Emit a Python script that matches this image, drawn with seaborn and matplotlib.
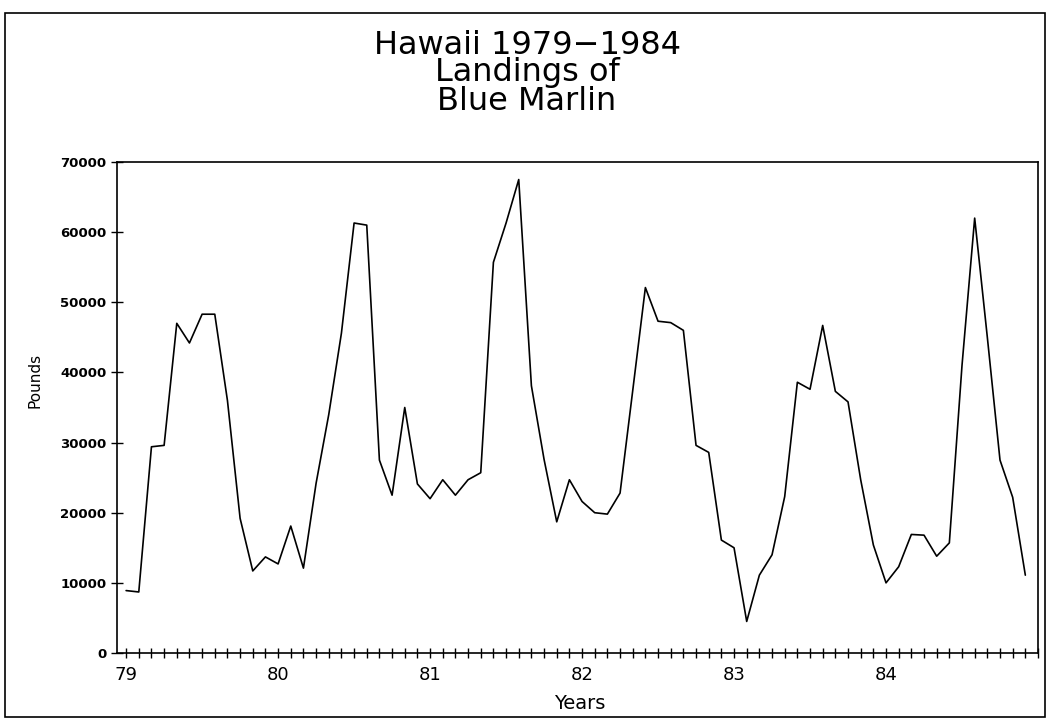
import numpy as np
import pandas as pd
import matplotlib
matplotlib.use("Agg")
import matplotlib.pyplot as plt
from matplotlib.patches import Rectangle
from matplotlib.ticker import FixedLocator
import seaborn as sns

# ---- data (monthly landings, Jan 1979 .. Dec 1984) ----
title_lines = ["Hawaii 1979\u22121984", "Landings of", "Blue Marlin"]
year_labels = ["79", "80", "81", "82", "83", "84"]
pounds_1979 = [8900, 8700, 29400, 29600, 47000, 44200, 48300, 48300, 36000, 19200, 11700, 13700]
pounds_1980 = [12700, 18100, 12100, 24200, 34000, 45600, 61300, 61000, 27500, 22500, 35000, 24100]
pounds_1981 = [22000, 24700, 22500, 24700, 25700, 55700, 61300, 67500, 38100, 27600, 18700, 24700]
pounds_1982 = [21600, 20000, 19800, 22800, 37400, 52100, 47300, 47100, 46000, 29600, 28600, 16100]
pounds_1983 = [15000, 4500, 11100, 14000, 22300, 38600, 37600, 46700, 37300, 35800, 24700, 15400]
pounds_1984 = [10000, 12300, 16900, 16800, 13800, 15700, 41000, 62000, 45000, 27500, 22200, 11100]
y_ticks = [0, 10000, 20000, 30000, 40000, 50000, 60000, 70000]

pounds = pounds_1979 + pounds_1980 + pounds_1981 + pounds_1982 + pounds_1983 + pounds_1984
first_year = int(year_labels[0])
t = first_year + np.arange(len(pounds)) / 12.0
df = pd.DataFrame({"Years": t, "Pounds": pounds})

sns.set_theme(style="white")
plt.rcParams["font.family"] = ["DejaVu Sans"]
plt.rcParams["text.color"] = "black"
plt.rcParams["axes.labelcolor"] = "black"
plt.rcParams["xtick.color"] = "black"
plt.rcParams["ytick.color"] = "black"

fig = plt.figure(figsize=(10.51, 7.24), dpi=100)
ax = fig.add_axes([117 / 1051, 1 - 653 / 724, (1038 - 117) / 1051, (653 - 162) / 724])

sns.lineplot(data=df, x="Years", y="Pounds", ax=ax, color="black", linewidth=1.2)

ax.set_xlim(first_year - 0.06, first_year + len(year_labels))
ax.set_ylim(y_ticks[0], y_ticks[-1])

# x ticks: labelled years plus monthly "+" ticks
ax.xaxis.set_major_locator(FixedLocator([first_year + i for i in range(len(year_labels))]))
ax.set_xticklabels(year_labels)
ax.xaxis.set_minor_locator(FixedLocator(first_year + np.arange(0, len(pounds) + 1) / 12.0))
ax.tick_params(axis="x", which="both", direction="inout", length=7, width=1.0,
               color="black", bottom=True)
ax.tick_params(axis="x", which="major", labelsize=13, pad=6, labelcolor="black")

ax.yaxis.set_major_locator(FixedLocator(y_ticks))
ax.set_yticklabels([str(v) for v in y_ticks])
ax.tick_params(axis="y", which="major", direction="inout", length=9, width=1.0,
               color="black", left=True, labelsize=9.5, pad=3, labelcolor="black")
for lab in ax.get_yticklabels():
    lab.set_fontweight("bold")

for s in ax.spines.values():
    s.set_visible(True)
    s.set_color("black")
    s.set_linewidth(1.2)

ax.set_xlabel("Years", fontsize=14, color="black")
ax.set_ylabel("Pounds", fontsize=11, color="black")
ax.yaxis.set_label_coords(-0.0814, 0.556)
ax.xaxis.set_label_coords(0.502, -0.083)

# title
for i, line in enumerate(title_lines):
    fig.text(527 / 1051, 1 - (45 + 28 * i) / 724, line, ha="center", va="center",
             fontsize=23, color="black", family=["DejaVu Sans"])

# outer frame
fig.patches.append(Rectangle((5 / 1051, 1 - 717 / 724), 1040 / 1051, 704 / 724,
                             transform=fig.transFigure, fill=False,
                             edgecolor="black", linewidth=1.2))

fig.savefig("out.png", dpi=100, facecolor="white")
